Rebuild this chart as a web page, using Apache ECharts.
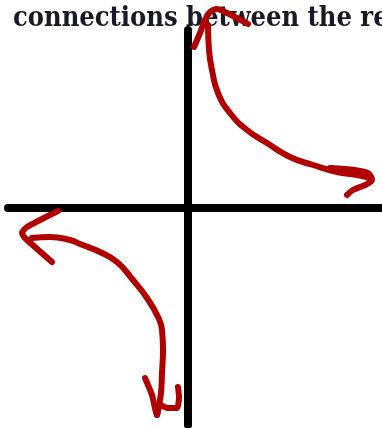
<!DOCTYPE html>
<html lang="en">

<head>
    <meta charset="utf-8" />
    <title></title>
    <style>
        html, body { margin: 0; padding: 0; background: #fff; }
    </style>
</head>

<body>
    <div id="main" style="width:382px;height:428px"></div>
    <script src="https://cdn.jsdelivr.net/npm/echarts@6/dist/echarts.min.js"></script>
    <script>
        // caption text at the top (cut off at the right edge)
        var captionText = 'connections between the re';

        // hand drawn branches, in axis units (origin = where the axes cross)
        var upperCurve = [
            [2.0, 18.3], [2.1, 15.8], [2.4, 13.8], [3.0, 11.5], [4.2, 9.5], [5.9, 7.8],
            [7.9, 6.5], [10.2, 5.1], [12.5, 4.3], [14.9, 3.6], [16.9, 3.3], [18.2, 3.0]
        ];
        var upArrowHead = [
            [0.6, 16.1], [1.2, 17.5], [1.7, 18.8], [2.2, 19.6], [2.9, 19.9],
            [3.9, 19.5], [4.9, 19.0], [6.0, 18.4]
        ];
        var rightArrowHead = [
            [14.2, 4.0], [16.7, 3.8], [18.0, 3.5], [18.4, 2.8], [17.7, 2.3],
            [16.5, 1.8], [15.9, 1.3]
        ];
        var lowerCurve = [
            [-15.6, -3.0], [-13.8, -2.9], [-11.8, -3.2], [-10.8, -3.6], [-8.8, -4.4],
            [-7.1, -5.4], [-5.5, -7.2], [-4.1, -9.0], [-3.0, -10.9], [-2.6, -12.2],
            [-2.5, -14.2], [-2.6, -16.5], [-2.7, -18.5], [-3.1, -20.7]
        ];
        var leftArrowHead = [
            [-13.0, -0.3], [-16.1, -1.9], [-16.6, -2.5], [-16.3, -3.0], [-13.6, -5.4]
        ];
        var downArrowHead = [
            [-4.3, -17.0], [-3.6, -18.7], [-3.1, -20.7], [-2.8, -19.7], [-2.0, -20.0],
            [-1.1, -20.0], [-0.9, -18.9], [-1.0, -17.9]
        ];

        var myChart = echarts.init(document.getElementById('main'));

        function redStroke(data, smooth) {
            return {
                type: 'line',
                data: data,
                smooth: smooth,
                showSymbol: false,
                clip: false,
                z: 10,
                lineStyle: {
                    color: '#b00000',
                    width: 6,
                    cap: 'round',
                    join: 'round'
                }
            };
        }

        var axisStyle = {
            show: true,
            onZero: true,
            lineStyle: { color: '#000', width: 8, cap: 'round' }
        };

        var option = {
            animation: false,
            backgroundColor: '#fff',
            title: {
                text: captionText,
                left: 13,
                top: 5,
                padding: 0,
                z: 0,
                textStyle: {
                    fontFamily: 'DejaVu Serif Condensed',
                    fontSize: 27,
                    fontWeight: 'bold',
                    color: '#1a1a26'
                }
            },
            grid: { left: 8, right: 0, top: 30, bottom: 3 },
            xAxis: {
                type: 'value',
                min: -18,
                max: 19.4,
                axisLine: axisStyle,
                axisTick: { show: false },
                axisLabel: { show: false },
                splitLine: { show: false }
            },
            yAxis: {
                type: 'value',
                min: -21.7,
                max: 17.8,
                axisLine: axisStyle,
                axisTick: { show: false },
                axisLabel: { show: false },
                splitLine: { show: false }
            },
            series: [
                redStroke(upperCurve, 0.5),
                redStroke(upArrowHead, 0.4),
                redStroke(rightArrowHead, 0.3),
                redStroke(lowerCurve, 0.5),
                redStroke(leftArrowHead, 0.2),
                redStroke(downArrowHead, 0.2)
            ]
        };
        myChart.setOption(option);
    </script>
</body>

</html>
